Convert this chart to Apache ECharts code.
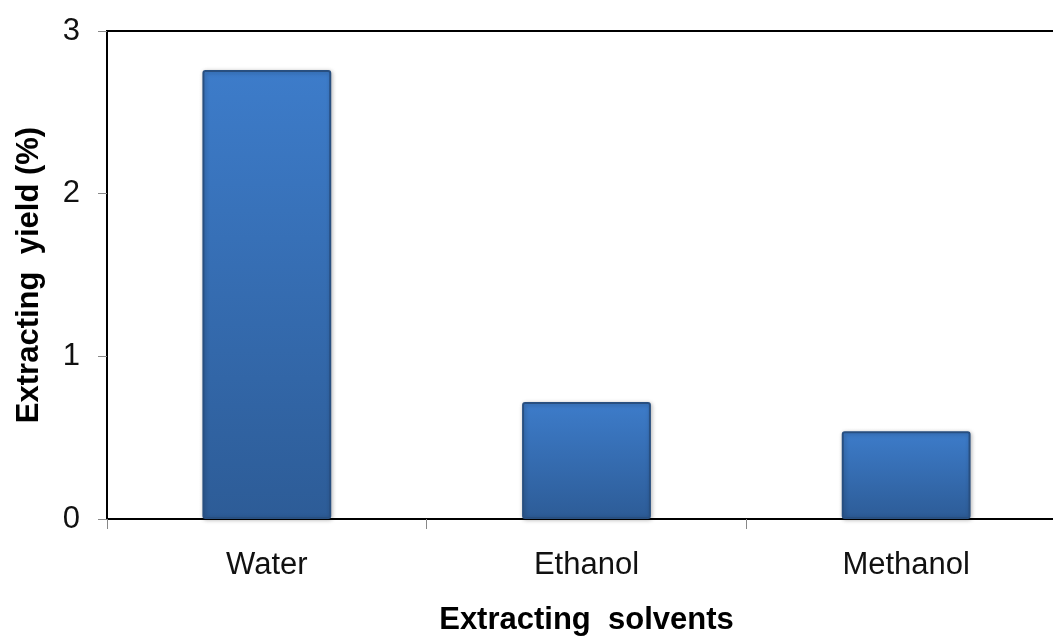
<!DOCTYPE html>
<html>
<head>
<meta charset="utf-8">
<style>
  html, body { margin: 0; padding: 0; background: #fff; }
  #chart { width: 1053px; height: 637px; }
</style>
<script src="https://cdn.jsdelivr.net/npm/echarts@6/dist/echarts.min.js"></script>
</head>
<body>
<div id="chart"></div>
<script>
// Extraction yield per solvent
const solvents = ['Water', 'Ethanol', 'Methanol'];
const yieldPercent = [2.76, 0.72, 0.54];
const yTicks = [0, 1, 2, 3];

const FONT = '"Liberation Sans", Arial, sans-serif';

const chart = echarts.init(document.getElementById('chart'), null, { renderer: 'canvas' });

chart.setOption({
  animation: false,
  backgroundColor: '#ffffff',
  grid: {
    left: 107,
    top: 31,
    right: -13,
    bottom: 118,
    containLabel: false,
    outerBoundsMode: 'none',
    show: true,
    borderColor: '#000000',
    borderWidth: 2,
    backgroundColor: 'transparent'
  },
  xAxis: {
    type: 'category',
    data: solvents,
    name: 'Extracting  solvents',
    nameLocation: 'middle',
    nameGap: 86,
    nameTextStyle: { fontFamily: FONT, fontSize: 31, fontWeight: 'bold', color: '#000' },
    axisLine: { lineStyle: { color: '#000', width: 2 } },
    axisTick: { show: true, length: 10, alignWithLabel: false, lineStyle: { color: '#888', width: 1 } },
    axisLabel: { fontFamily: FONT, fontSize: 31, color: '#111', margin: 31 },
    splitLine: { show: false }
  },
  yAxis: {
    type: 'value',
    min: yTicks[0],
    max: yTicks[yTicks.length - 1],
    interval: 1,
    name: 'Extracting  yield (%)',
    nameLocation: 'middle',
    nameGap: 62,
    nameTextStyle: { fontFamily: FONT, fontSize: 31, fontWeight: 'bold', color: '#000' },
    axisLine: { show: true, lineStyle: { color: '#000', width: 2 } },
    axisTick: { show: true, length: 9, lineStyle: { color: '#888', width: 1 } },
    axisLabel: {
      fontFamily: FONT, fontSize: 31, color: '#111', margin: 27,
      formatter: v => (yTicks.includes(v) ? String(v) : '')
    },
    splitLine: { show: false }
  },
  series: [{
    type: 'bar',
    data: yieldPercent,
    barWidth: '40.3%',
    itemStyle: {
      color: new echarts.graphic.LinearGradient(0, 0, 0, 1, [
        { offset: 0, color: '#3d7cca' },
        { offset: 1, color: '#2d5c97' }
      ]),
      borderColor: '#284f80',
      borderWidth: 2,
      borderRadius: 2,
      shadowColor: 'rgba(0,0,0,0.25)',
      shadowBlur: 4,
      shadowOffsetX: 1,
      shadowOffsetY: 1
    }
  }]
});
</script>
</body>
</html>
